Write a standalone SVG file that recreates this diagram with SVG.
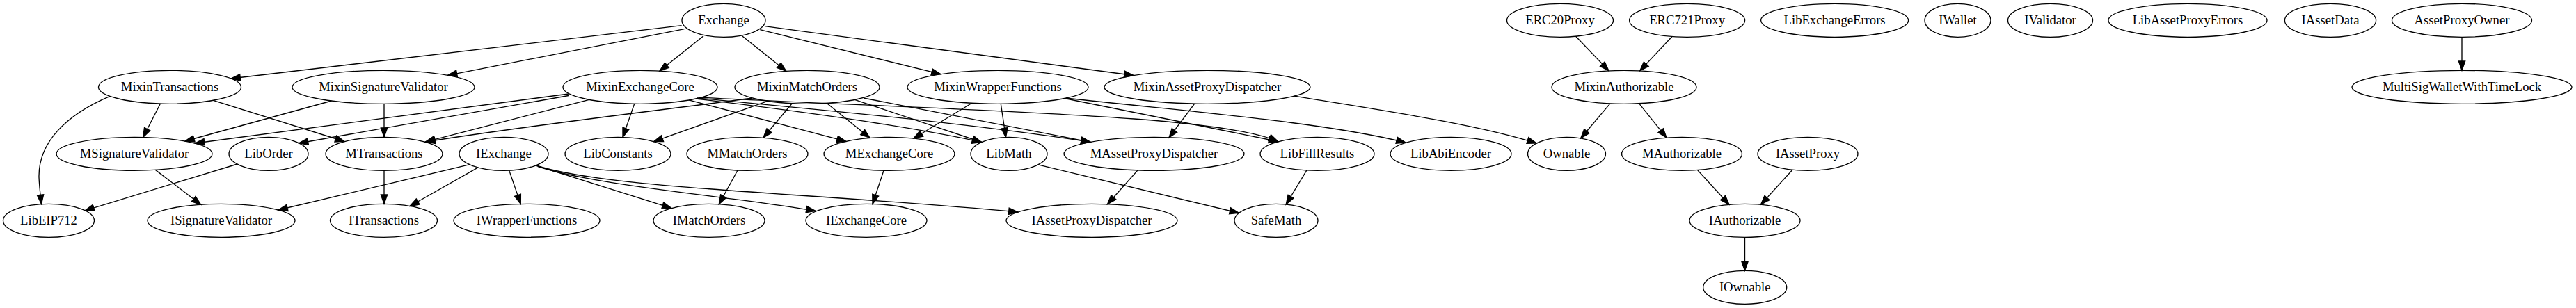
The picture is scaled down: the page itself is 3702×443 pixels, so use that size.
<svg xmlns="http://www.w3.org/2000/svg" width="3702" height="443" viewBox="0 0 3702 443">
<style>
.n ellipse{fill:none;stroke:#000;stroke-width:1.33}
.n text{font-family:"Liberation Serif","Times New Roman",serif;font-size:18.67px;text-anchor:middle;fill:#000}
#edges path{fill:none;stroke:#000;stroke-width:1.33;marker-end:url(#arr)}
</style>
<defs>
<marker id="arr" markerUnits="userSpaceOnUse" markerWidth="16" markerHeight="12" viewBox="-1 -6 16 12" refX="13.3" refY="0" orient="auto">
<path d="M0,-4.67 L13.3,0 L0,4.67 z" fill="#000" stroke="#000" stroke-width="1.33"/>
</marker>
</defs>
<rect width="3702" height="443" fill="#fff"/>
<g id="edges">
<path d="M979.6,36.7 L332,113"/>
<path d="M983.5,41.7 L643.5,108.3"/>
<path d="M1011,51.7 L948,102"/>
<path d="M1066.6,51.7 L1129.8,102.2"/>
<path d="M1092.3,42.7 L1352,106.7"/>
<path d="M1099,37.7 L1629,108.5"/>
<path d="M158,138.3 C95,165 55,205 56,255 C56.5,268 58,280 59.5,293.5"/>
<path d="M230.5,149 L205.6,197.5"/>
<path d="M306.4,144.3 L495,203.5"/>
<path d="M476.5,145 L266,203"/>
<path d="M552,149.3 L552,197.3"/>
<path d="M817,135 L280.5,206"/>
<path d="M817,137.5 L429.5,206"/>
<path d="M846.7,143.3 L611,204.2"/>
<path d="M1081,141 C980,155 760,180 612,204"/>
<path d="M911.7,149.2 L895,197.4"/>
<path d="M1103.3,145.4 L939.5,203.7"/>
<path d="M1138.3,148.8 L1097,198"/>
<path d="M1188.3,148.4 L1250,198.3"/>
<path d="M990,143.9 L1216,203.4"/>
<path d="M1396.7,148.3 L1313,199"/>
<path d="M1228.3,143.4 L1410.7,204.5"/>
<path d="M1000,142 C1150,160 1300,180 1410.7,204.5"/>
<path d="M1002,141 C1200,160 1400,178 1567,204.3"/>
<path d="M1241,141 L1567,204.3"/>
<path d="M1004,140 C1400,160 1750,165 1836.7,203.5"/>
<path d="M1530,141.5 L1836.7,203.5"/>
<path d="M1532,141 C1700,160 1900,175 2020,205"/>
<path d="M1438.3,149.3 L1445.5,197.4"/>
<path d="M1716.7,149.1 L1680,198"/>
<path d="M1860,138.1 C1980,158 2120,178 2208,206"/>
<path d="M675,236.7 L400,302"/>
<path d="M687,240.9 L589,296.5"/>
<path d="M731.7,245.1 L748.3,293.4"/>
<path d="M770,238 L965,299.4"/>
<path d="M773,239.5 C860,268 1050,282 1172,303.5"/>
<path d="M772,238.5 C880,272 1150,276 1463,305"/>
<path d="M223.4,244.4 L288.7,294.2"/>
<path d="M341,236 L122,302.8"/>
<path d="M552,245.3 L552,293.3"/>
<path d="M1060,245 L1033.3,293.7"/>
<path d="M1270,245.3 L1254,293.3"/>
<path d="M1635,244.9 L1591.5,293.7"/>
<path d="M1491.8,236.9 L1780.5,306.4"/>
<path d="M1877.9,244.9 L1848.2,294"/>
<path d="M2264.6,52.2 L2312,101.8"/>
<path d="M2403,52.5 L2356.7,101.9"/>
<path d="M2314,148.9 L2271.7,198.9"/>
<path d="M2355.6,148.8 L2395,198.1"/>
<path d="M2439.5,244.5 L2485,294.3"/>
<path d="M2576,244.2 L2530.5,294.3"/>
<path d="M2507.5,341.3 L2507.5,389.3"/>
<path d="M3538,53.3 L3538,101.3"/>
</g>
<g id="Exchange" class="n"><ellipse cx="1040" cy="29.3" rx="60" ry="24"/><text x="1040" y="35.3">Exchange</text></g>
<g id="ERC20Proxy" class="n"><ellipse cx="2242" cy="29.3" rx="76.5" ry="24"/><text x="2242" y="35.3">ERC20Proxy</text></g>
<g id="ERC721Proxy" class="n"><ellipse cx="2424.6" cy="29.3" rx="83" ry="24"/><text x="2424.6" y="35.3">ERC721Proxy</text></g>
<g id="LibExchangeErrors" class="n"><ellipse cx="2636.6" cy="29.3" rx="106" ry="24"/><text x="2636.6" y="35.3">LibExchangeErrors</text></g>
<g id="IWallet" class="n"><ellipse cx="2813.5" cy="29.3" rx="47.5" ry="24"/><text x="2813.5" y="35.3">IWallet</text></g>
<g id="IValidator" class="n"><ellipse cx="2946.5" cy="29.3" rx="61" ry="24"/><text x="2946.5" y="35.3">IValidator</text></g>
<g id="LibAssetProxyErrors" class="n"><ellipse cx="3144" cy="29.3" rx="114" ry="24"/><text x="3144" y="35.3">LibAssetProxyErrors</text></g>
<g id="IAssetData" class="n"><ellipse cx="3349" cy="29.3" rx="65.6" ry="24"/><text x="3349" y="35.3">IAssetData</text></g>
<g id="AssetProxyOwner" class="n"><ellipse cx="3538" cy="29.3" rx="100.5" ry="24"/><text x="3538" y="35.3">AssetProxyOwner</text></g>
<g id="MixinTransactions" class="n"><ellipse cx="244" cy="125.3" rx="102.5" ry="24"/><text x="244" y="131.3">MixinTransactions</text></g>
<g id="MixinSignatureValidator" class="n"><ellipse cx="551" cy="125.3" rx="131" ry="24"/><text x="551" y="131.3">MixinSignatureValidator</text></g>
<g id="MixinExchangeCore" class="n"><ellipse cx="920" cy="125.3" rx="111" ry="24"/><text x="920" y="131.3">MixinExchangeCore</text></g>
<g id="MixinMatchOrders" class="n"><ellipse cx="1160" cy="125.3" rx="104" ry="24"/><text x="1160" y="131.3">MixinMatchOrders</text></g>
<g id="MixinWrapperFunctions" class="n"><ellipse cx="1434" cy="125.3" rx="130" ry="24"/><text x="1434" y="131.3">MixinWrapperFunctions</text></g>
<g id="MixinAssetProxyDispatcher" class="n"><ellipse cx="1735" cy="125.3" rx="148" ry="24"/><text x="1735" y="131.3">MixinAssetProxyDispatcher</text></g>
<g id="MixinAuthorizable" class="n"><ellipse cx="2334" cy="125.3" rx="104" ry="24"/><text x="2334" y="131.3">MixinAuthorizable</text></g>
<g id="MultiSigWalletWithTimeLock" class="n"><ellipse cx="3538" cy="125.3" rx="158" ry="24"/><text x="3538" y="131.3">MultiSigWalletWithTimeLock</text></g>
<g id="MSignatureValidator" class="n"><ellipse cx="193" cy="221.3" rx="112" ry="24"/><text x="193" y="227.3">MSignatureValidator</text></g>
<g id="LibOrder" class="n"><ellipse cx="386" cy="221.3" rx="57" ry="24"/><text x="386" y="227.3">LibOrder</text></g>
<g id="MTransactions" class="n"><ellipse cx="552" cy="221.3" rx="84" ry="24"/><text x="552" y="227.3">MTransactions</text></g>
<g id="IExchange" class="n"><ellipse cx="724" cy="221.3" rx="64" ry="24"/><text x="724" y="227.3">IExchange</text></g>
<g id="LibConstants" class="n"><ellipse cx="888" cy="221.3" rx="76" ry="24"/><text x="888" y="227.3">LibConstants</text></g>
<g id="MMatchOrders" class="n"><ellipse cx="1074" cy="221.3" rx="87" ry="24"/><text x="1074" y="227.3">MMatchOrders</text></g>
<g id="MExchangeCore" class="n"><ellipse cx="1278" cy="221.3" rx="94" ry="24"/><text x="1278" y="227.3">MExchangeCore</text></g>
<g id="LibMath" class="n"><ellipse cx="1450" cy="221.3" rx="55" ry="24"/><text x="1450" y="227.3">LibMath</text></g>
<g id="MAssetProxyDispatcher" class="n"><ellipse cx="1658.5" cy="221.3" rx="129.5" ry="24"/><text x="1658.5" y="227.3">MAssetProxyDispatcher</text></g>
<g id="LibFillResults" class="n"><ellipse cx="1893" cy="221.3" rx="82" ry="24"/><text x="1893" y="227.3">LibFillResults</text></g>
<g id="LibAbiEncoder" class="n"><ellipse cx="2085" cy="221.3" rx="87" ry="24"/><text x="2085" y="227.3">LibAbiEncoder</text></g>
<g id="Ownable" class="n"><ellipse cx="2251.5" cy="221.3" rx="56" ry="24"/><text x="2251.5" y="227.3">Ownable</text></g>
<g id="MAuthorizable" class="n"><ellipse cx="2417" cy="221.3" rx="86.5" ry="24"/><text x="2417" y="227.3">MAuthorizable</text></g>
<g id="IAssetProxy" class="n"><ellipse cx="2598" cy="221.3" rx="72" ry="24"/><text x="2598" y="227.3">IAssetProxy</text></g>
<g id="LibEIP712" class="n"><ellipse cx="70" cy="317.3" rx="65.5" ry="24"/><text x="70" y="323.3">LibEIP712</text></g>
<g id="ISignatureValidator" class="n"><ellipse cx="318" cy="317.3" rx="106" ry="24"/><text x="318" y="323.3">ISignatureValidator</text></g>
<g id="ITransactions" class="n"><ellipse cx="551.5" cy="317.3" rx="77" ry="24"/><text x="551.5" y="323.3">ITransactions</text></g>
<g id="IWrapperFunctions" class="n"><ellipse cx="757" cy="317.3" rx="105" ry="24"/><text x="757" y="323.3">IWrapperFunctions</text></g>
<g id="IMatchOrders" class="n"><ellipse cx="1019" cy="317.3" rx="80" ry="24"/><text x="1019" y="323.3">IMatchOrders</text></g>
<g id="IExchangeCore" class="n"><ellipse cx="1245" cy="317.3" rx="87" ry="24"/><text x="1245" y="323.3">IExchangeCore</text></g>
<g id="IAssetProxyDispatcher" class="n"><ellipse cx="1569" cy="317.3" rx="123" ry="24"/><text x="1569" y="323.3">IAssetProxyDispatcher</text></g>
<g id="SafeMath" class="n"><ellipse cx="1834" cy="317.3" rx="60" ry="24"/><text x="1834" y="323.3">SafeMath</text></g>
<g id="IAuthorizable" class="n"><ellipse cx="2507.5" cy="317.3" rx="79.5" ry="24"/><text x="2507.5" y="323.3">IAuthorizable</text></g>
<g id="IOwnable" class="n"><ellipse cx="2507.7" cy="413.3" rx="60" ry="24"/><text x="2507.7" y="419.3">IOwnable</text></g>
</svg>
